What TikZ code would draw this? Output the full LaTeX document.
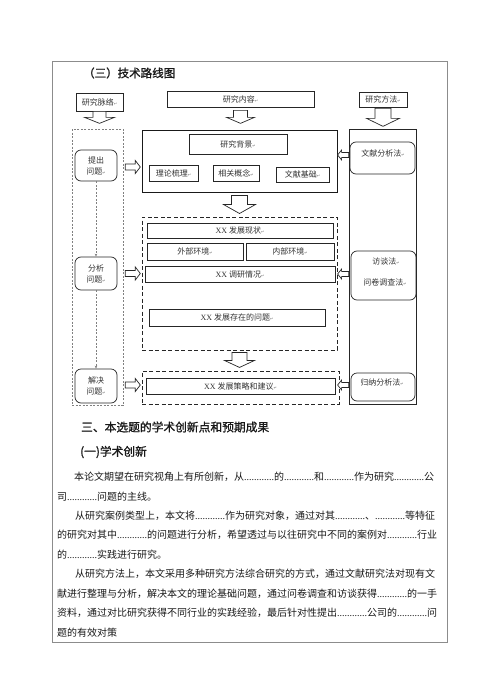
\documentclass[tikz,border=0pt]{standalone}
\usepackage{fontspec}
\setmainfont{Liberation Serif}
\newfontfamily\cjk{Noto Sans CJK SC}
\newfontfamily\cjkb{Noto Sans CJK SC}[FakeBold=1.2]
\newfontfamily\djv{DejaVu Sans}
\usetikzlibrary{calc,arrows.meta}
\newcommand\pmk{{\djv\fontsize{4}{4}\selectfont\textcolor{black!55}{↵}}}
\newcommand\dd{{\rmfamily............}}
\newcommand\darr[5]{%
 \draw[barrow] (#1) ++({-(#3)/2},0) -- ++(0,{(#2)-(#5)}) -- ++({-((#4)-(#3))/2},0)
   -- ++({(#4)/2},{#5}) -- ++({(#4)/2},{-(#5)}) -- ++({-((#4)-(#3))/2},0)
   -- ++(0,{-((#2)-(#5))}) -- cycle;}
\newcommand\rarr[5]{%
 \draw[barrow] (#1) ++(0,{-(#3)/2}) -- ++({(#2)-(#5)},0) -- ++(0,{-((#4)-(#3))/2})
   -- ++({#5},{(#4)/2}) -- ++({-(#5)},{(#4)/2}) -- ++(0,{-((#4)-(#3))/2})
   -- ++({-((#2)-(#5))},0) -- cycle;}
\tikzset{
 box/.style={draw=black!85, line width=0.7pt, inner sep=0pt, font=\cjk\fontsize{8}{11}\selectfont, text=black!80, align=center},
 rbox/.style={box, rounded corners=6pt},
 mbox/.style={draw=black!90, line width=1pt},
 dbox/.style={draw=black!85, line width=0.9pt, dash pattern=on 4pt off 2.5pt},
 gdash/.style={draw=black!50, line width=0.6pt, dash pattern=on 2pt off 1.5pt},
 barrow/.style={draw=black!85, line width=0.7pt, fill=white, line join=miter},
 lbl/.style={inner sep=0pt, font=\cjk\fontsize{8}{11}\selectfont, text=black!80},
 body/.style={anchor=west, inner sep=0pt, font=\cjk\fontsize{10}{12}\selectfont, text=black!90},
 head/.style={anchor=west, inner sep=0pt, text=black!90},
}
\begin{document}
\begin{tikzpicture}[x=1pt,y=-1pt]
\useasboundingbox (0,0) rectangle (500,693);
\fill[white] (0,0) rectangle (500,693);
\node[draw=black!45, line width=0.8pt, minimum width=395pt, minimum height=581pt, inner sep=0pt] (frame) at (249.5,351.5) {};

\node[head, font=\cjkb\fontsize{11.5}{12}\selectfont] (title) at (83,73) {（三）技术路线图};

% top headers
\node[box, minimum width=47pt, minimum height=18pt] (mailuo) at (99.5,102) {研究脉络\pmk};
\node[box, minimum width=147pt, minimum height=16pt] (neirong) at (240.5,99) {研究内容\pmk};
\node[box, minimum width=48pt, minimum height=15pt] (fangfa) at (383,99.5) {研究方法\pmk};

% left column
\node[gdash, minimum width=51pt, minimum height=276pt, inner sep=0pt] (leftcol) at (97.5,267) {};
\node[rbox, minimum width=42pt, minimum height=31pt] (tichu) at (96,165.5) {提出\\问题\pmk};
\node[rbox, minimum width=42pt, minimum height=33pt] (fenxi) at (96,273.5) {分析\\问题\pmk};
\node[rbox, minimum width=42pt, minimum height=34pt] (jiejue) at (96,386) {解决\\问题\pmk};
\draw[gdash, -{Stealth[length=3pt,width=2.5pt]}] (tichu.south) -- (fenxi.north);
\draw[gdash, -{Stealth[length=3pt,width=2.5pt]}] (fenxi.south) -- (jiejue.north);

% main block
\node[mbox, minimum width=195pt, minimum height=62pt, inner sep=0pt] (main) at (239.5,161) {};
\node[box, minimum width=98pt, minimum height=20pt] (beijing) at (238,144) {研究背景\pmk};
\node[box, minimum width=49pt, minimum height=16pt] (lilun) at (173.5,173) {理论梳理\pmk};
\node[box, minimum width=46pt, minimum height=16pt] (gainian) at (236,173) {相关概念\pmk};
\node[box, minimum width=53pt, minimum height=15pt] (jichu) at (302.5,174.5) {文献基础\pmk};

% dashed block 2
\node[dbox, minimum width=195pt, minimum height=133pt, inner sep=0pt] (dash2) at (239.5,283.5) {};
\node[box, minimum width=186pt, minimum height=15pt] (xianzhuang) at (240,230.5) {{\rmfamily XX} 发展现状\pmk};
\node[box, minimum width=96pt, minimum height=17pt] (waibu) at (195,251.5) {外部环境\pmk};
\node[box, minimum width=88pt, minimum height=17pt] (neibu) at (290,251.5) {内部环境\pmk};
\node[box, minimum width=190pt, minimum height=16pt] (diaoyan) at (240,274) {{\rmfamily XX} 调研情况\pmk};
\node[box, minimum width=176pt, minimum height=17pt] (wenti) at (237,317.5) {{\rmfamily XX} 发展存在的问题\pmk};

% dashed block 3
\node[dbox, minimum width=197pt, minimum height=33pt, inner sep=0pt] (dash3) at (240.5,387.5) {};
\node[box, minimum width=189pt, minimum height=16pt] (celue) at (240.5,386) {{\rmfamily XX} 发展策略和建议\pmk};

% right column
\node[draw=black!85, line width=0.8pt, minimum width=67pt, minimum height=275pt, inner sep=0pt] (rightcol) at (382.5,266.5) {};
\node[rbox, minimum width=65pt, minimum height=32pt] (wenxian) at (382.5,158) {};
\node[lbl] (wenxiant) at (383,153) {文献分析法\pmk};
\node[rbox, minimum width=65pt, minimum height=49pt] (fangtan) at (383.5,275.5) {};
\node[lbl] (fangtant1) at (386,261) {访谈法\pmk};
\node[lbl] (fangtant2) at (385,282) {问卷调查法\pmk};
\node[rbox, minimum width=64pt, minimum height=28pt] (guina) at (383,387) {};
\node[lbl] (guinat) at (382,382) {归纳分析法\pmk};

% block arrows
\darr{mailuo.south}{12}{13}{30}{6}
\darr{$(neirong.south)+(0,3)$}{13}{14}{28}{6}
\darr{$(fangfa.south)+(0,1)$}{18}{16}{33}{8}
\darr{$(main.south)+(0,3)$}{18}{16}{32}{9}
\darr{$(dash2.south)+(0,2)$}{15}{15}{30}{7}
\rarr{$(tichu.center -| leftcol.east)+(2,1.5)$}{15}{6}{13}{5}
\rarr{$(fenxi.center -| leftcol.east)+(2,0)$}{15}{6}{13}{5}
\rarr{$(jiejue.center -| leftcol.east)+(2,-1)$}{15}{6}{13}{5}
\rarr{$(wenxian.center -| rightcol.west)+(0,-3)$}{-11}{5}{10}{-4}
\rarr{$(fangtan.center -| rightcol.west)+(0,-1.5)$}{-11}{5}{10}{-4}
\rarr{$(guina.center -| rightcol.west)+(0,-2)$}{-11}{5}{10}{-4}

% text section
\node[head, font=\cjkb\fontsize{11.75}{12}\selectfont] (h3) at (81,427) {三、本选题的学术创新点和预期成果};
\node[head, font=\cjkb\fontsize{11.75}{12}\selectfont] (h31) at (80,452) {(一)学术创新};
\node[body] (l1) at (74,477) {本论文期望在研究视角上有所创新，从\dd 的\dd 和\dd 作为研究\dd 公};
\node[body] (l2) at (57,496.4) {司\dd 问题的主线。};
\node[body] (l3) at (75,515.8) {从研究案例类型上，本文将\dd 作为研究对象，通过对其\dd 、\dd 等特征};
\node[body] (l4) at (57,535.2) {的研究对其中\dd 的问题进行分析，希望透过与以往研究中不同的案例对\dd 行业};
\node[body] (l5) at (57,554.6) {的\dd 实践进行研究。};
\node[body] (l6) at (75,574) {从研究方法上，本文采用多种研究方法综合研究的方式，通过文献研究法对现有文};
\node[body] (l7) at (57,593.4) {献进行整理与分析，解决本文的理论基础问题，通过问卷调查和访谈获得\dd 的一手};
\node[body] (l8) at (57,612.8) {资料，通过对比研究获得不同行业的实践经验，最后针对性提出\dd 公司的\dd 问};
\node[body] (l9) at (57,632.2) {题的有效对策};
\end{tikzpicture}
\end{document}
